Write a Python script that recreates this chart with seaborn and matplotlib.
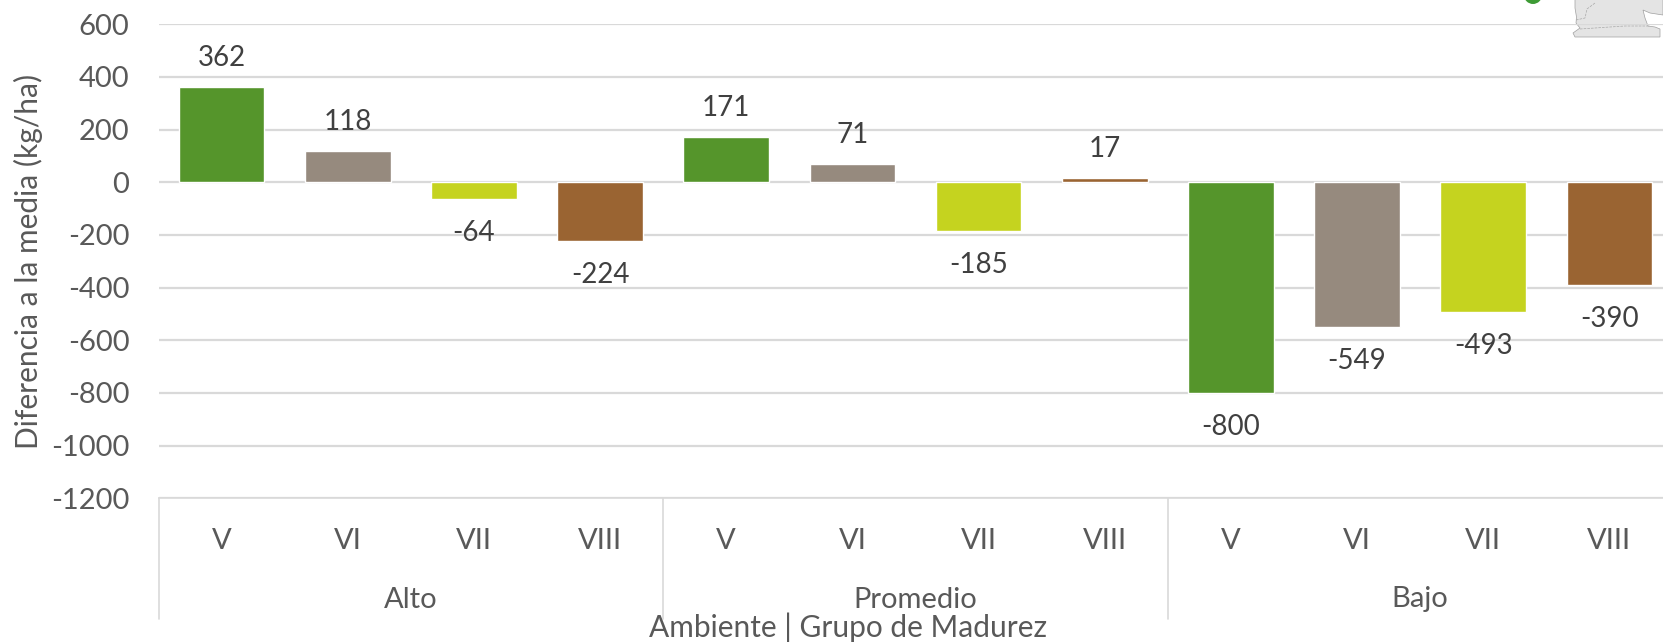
import numpy as np
import pandas as pd
import matplotlib
matplotlib.use('Agg')
import matplotlib.pyplot as plt
from matplotlib.patches import Polygon, Circle
from matplotlib.lines import Line2D
from matplotlib.transforms import IdentityTransform
import seaborn as sns

# values
ambientes = ['Alto', 'Promedio', 'Bajo']
grupos = ['V', 'VI', 'VII', 'VIII']
alto = [362, 118, -64, -224]
promedio = [171, 71, -185, 17]
bajo = [-800, -549, -493, -390]
colores = ['#55952B', '#968A7E', '#C5D31F', '#9A6432']
y_ticks = [600, 400, 200, 0, -200, -400, -600, -800, -1000, -1200]

df = pd.DataFrame({
    'ambiente': np.repeat(ambientes, 4),
    'grupo': grupos * 3,
    'valor': alto + promedio + bajo,
})
df['pos'] = df['ambiente'] + ' ' + df['grupo']

sns.set_style('white')
plt.rcParams['font.family'] = ['Lato', 'DejaVu Sans']
plt.rcParams['axes.unicode_minus'] = False

W, H = 1663, 642
fig = plt.figure(figsize=(W / 100, H / 100), dpi=100)
# the plot runs a bit past the right edge of the picture, as in the original
left, right = 158.5, 1672.5
top, bottom = 24.2, 498.2
ax = fig.add_axes([left / W, 1 - bottom / H, (right - left) / W, (bottom - top) / H])
ax.patch.set_visible(False)

sns.barplot(data=df, x='pos', y='valor', hue='grupo', hue_order=grupos,
            palette=colores, dodge=False, width=0.68, saturation=1,
            legend=False, ax=ax, zorder=3)

ax.set_xlim(-0.5, 11.5)
ax.set_ylim(-1200, 600)
ax.set_yticks(y_ticks)
ax.yaxis.grid(True, color='#D9D9D9', lw=1.6, zorder=0)
ax.set_axisbelow(True)
for s in ['top', 'right', 'left']:
    ax.spines[s].set_visible(False)
ax.spines['bottom'].set_color('#D9D9D9')
ax.spines['bottom'].set_linewidth(1.2)
ax.tick_params(axis='y', length=0, labelsize=21, labelcolor='#595959', pad=21)

ax.set_xticks(range(12))
ax.set_xticklabels(grupos * 3)
ax.tick_params(axis='x', length=0, labelsize=21, labelcolor='#595959', pad=21.5)

ax.set_xlabel('')
ax.set_ylabel('')
fig.text(28.5 / W, 1 - 261 / H, 'Diferencia a la media (kg/ha)', rotation=90,
         ha='center', va='center', fontsize=21.5, color='#595959')

# data labels, the negative ones sit a little further from the bar
for cont in ax.containers:
    for t in ax.bar_label(cont, fmt='%d', padding=11.5, fontsize=20, color='#404040'):
        if t.get_text().startswith('-'):
            t.xyann = (0, -15)

# multi level category axis
tr = ax.get_xaxis_transform()
for x in [-0.5, 3.5, 7.5]:
    ax.plot([x, x], [0, -121 / (bottom - top)], transform=tr, color='#D9D9D9',
            lw=1.2, clip_on=False)
for i, a in enumerate(ambientes):
    fig.text((left + (i * 4 + 2) * (right - left) / 12) / W, 1 - 599.5 / H, a,
             ha='center', va='center', fontsize=21, color='#595959')
fig.text(848 / W, 1 - 627.5 / H, 'Ambiente | Grupo de Madurez', ha='center', va='center',
         fontsize=21.5, color='#595959')

# piece of the map and the dot that overlap the top right corner, behind the grid
mapa = [(1575, 0), (1575, 8), (1576.5, 17), (1576, 23), (1580, 28), (1573, 33), (1575, 37),
        (1660, 37), (1660, 29), (1655, 27), (1648, 26), (1645, 18), (1643, 10), (1650, 13),
        (1663, 15), (1663, 0)]
fig.add_artist(Polygon([(x / W, 1 - y / H) for x, y in mapa], closed=False,
                       transform=fig.transFigure, fc='#E4E4E4', ec='#A0A0A0', lw=0.5, zorder=-1))
for linea in ([(1576, 20), (1585, 18), (1587, 9), (1595, 3)],
              [(1580, 29), (1625, 26), (1650, 26)]):
    xs, ys = zip(*linea)
    fig.add_artist(Line2D([x / W for x in xs], [1 - y / H for y in ys],
                          transform=fig.transFigure, color='#A8A8A8', lw=0.5, ls='--', zorder=-1))
fig.add_artist(Circle((1533, H + 5), 9, transform=IdentityTransform(),
                      fc='#3E9B35', ec='none'))

fig.savefig('out.png', dpi=100)
